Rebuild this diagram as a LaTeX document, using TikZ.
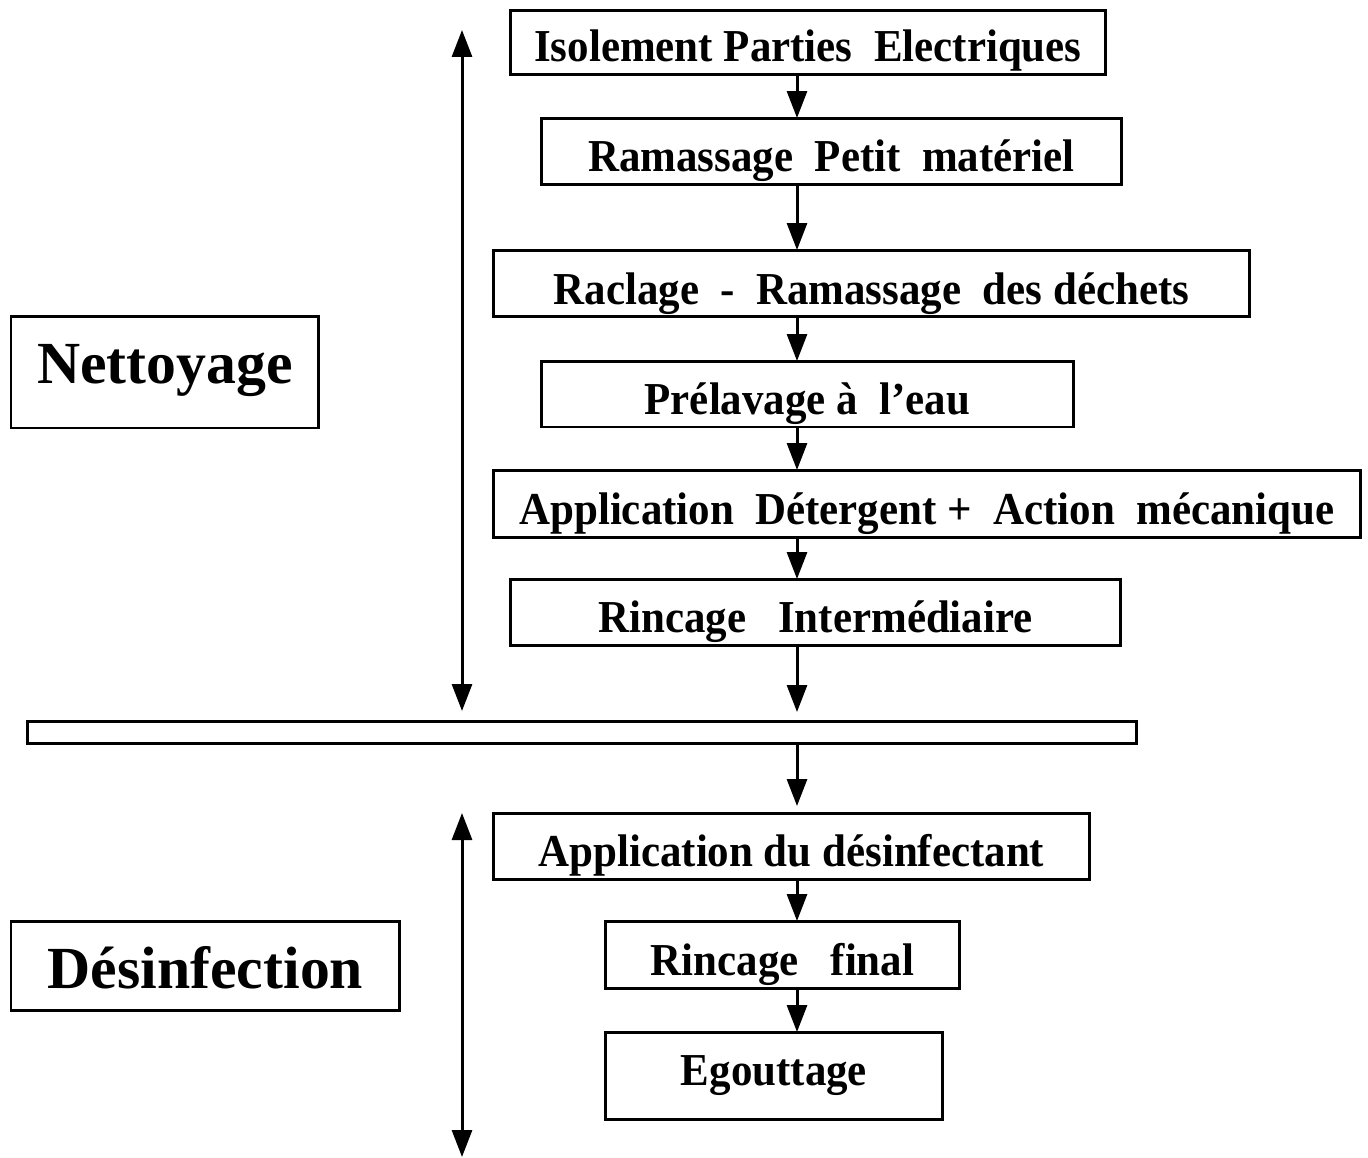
\documentclass[tikz,border=0pt]{standalone}
\usepackage{fontspec}
\setmainfont{Liberation Serif}
\newfontfamily\boxfont[FakeStretch=0.94]{Liberation Serif}
\usetikzlibrary{arrows.meta}
\tikzset{
  every node/.style={inner sep=0pt, outer sep=0pt},
  stepbox/.style={draw, line width=0.06cm, anchor=south west, align=center,
    font=\boxfont\bfseries\fontsize{26}{30}\selectfont, text depth=0.26cm},
  phasebox/.style={draw, line width=0.06cm, anchor=south west, align=center,
    font=\bfseries\fontsize{34}{40}\selectfont},
  flow/.style={line width=0.06cm, -{Triangle[length=0.54cm,width=0.4cm]}},
  dflow/.style={line width=0.06cm, {Triangle[length=0.54cm,width=0.4cm]}-{Triangle[length=0.54cm,width=0.4cm]}}
}
\begin{document}
\begin{tikzpicture}[x=0.02cm,y=-0.02cm]
\useasboundingbox (0,0) rectangle (1368,1158);
\fill[white] (0,0) rectangle (1368,1158);
% steps
\node[stepbox, minimum width=11.92cm, text height=1.04cm] (b1) at (510,75) {Isolement Parties\ \ Electriques};
\node[stepbox, minimum width=11.62cm, text height=1.08cm] (b2) at (541,185) {Ramassage\ \ Petit\ \ matériel};
\node[stepbox, minimum width=15.14cm, text height=1.08cm] (b3) at (493,317) {Raclage\ \ -\ \ Ramassage\ \ des déchets};
\node[stepbox, minimum width=10.66cm, text height=1.06cm] (b4) at (541,427) {Prélavage à\ \ l’eau};
\node[stepbox, minimum width=17.36cm, text height=1.08cm] (b5) at (493,537) {Application\ \ Détergent + \ Action\ \ mécanique};
\node[stepbox, minimum width=12.22cm, text height=1.06cm] (b6) at (510,645) {Rincage\ \ \ Intermédiaire};
\node[draw, line width=0.06cm, anchor=south west, minimum width=22.2cm, minimum height=0.44cm] (bar) at (27,743) {};
\node[stepbox, minimum width=11.94cm, text height=1.06cm] (b7) at (493,879) {Application du désinfectant};
\node[stepbox, minimum width=7.10cm, text height=1.08cm] (b8) at (605,988) {Rincage\ \ \ final};
\node[stepbox, minimum width=6.76cm, text height=1.06cm, text depth=0.68cm] (b9) at (605,1119) {Egouttage};
% phases
\node[phasebox, minimum width=6.16cm, text height=1.34cm, text depth=0.90cm] (net) at (11,428) {Nettoyage};
\node[phasebox, minimum width=7.78cm, text height=1.34cm, text depth=0.44cm] (des) at (11,1010) {Désinfection};
% flow arrows
\coordinate (ax) at (797,0);
\draw[flow] (b1.south -| ax) -- (b2.north -| ax);
\draw[flow] (b2.south -| ax) -- (b3.north -| ax);
\draw[flow] (b3.south -| ax) -- (b4.north -| ax);
\draw[flow] (b4.south -| ax) -- (b5.north -| ax);
\draw[flow] (b5.south -| ax) -- (b6.north -| ax);
\draw[flow, shorten >=0.18cm] (b6.south -| ax) -- (bar.north -| ax);
\draw[flow, shorten >=0.14cm] (bar.south -| ax) -- (b7.north -| ax);
\draw[flow] (b7.south -| ax) -- (b8.north -| ax);
\draw[flow] (b8.south -| ax) -- (b9.north -| ax);
% phase extent arrows
\coordinate (n1) at (462,30);
\coordinate (n2) at (462,711);
\coordinate (d1) at (462,813);
\coordinate (d2) at (462,1157);
\draw[dflow] (n1) -- (n2);
\draw[dflow] (d1) -- (d2);
\end{tikzpicture}
\end{document}
